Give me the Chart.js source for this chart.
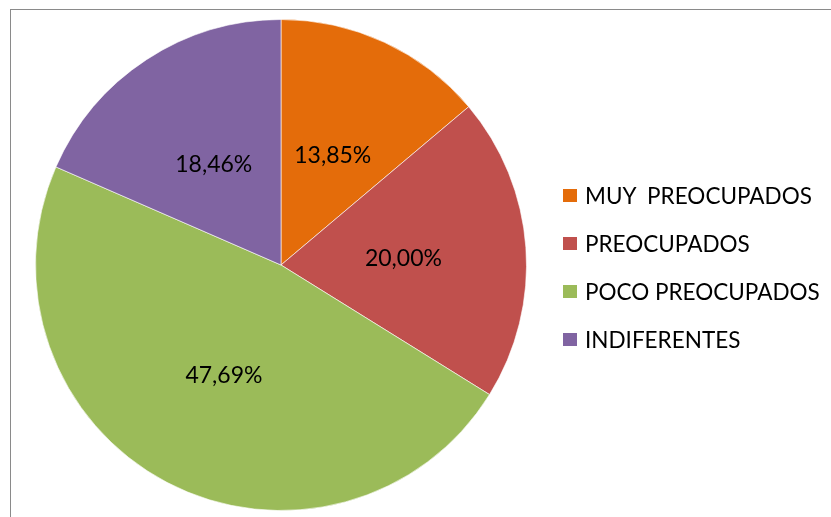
<!DOCTYPE html>
<html>
<head>
    <meta charset="UTF-8" />
    <title>Nivel de preocupación</title>
    <script src="https://cdn.jsdelivr.net/npm/chart.js"></script>
    <style>
        body { margin: 0; background: #fff; overflow: hidden; }
        #frame {
            position: absolute; left: 10px; top: 9px;
            width: 820px; height: 530px;
            border: 1.5px solid #8a8a8a;
        }
        #pieChart { position: absolute; left: 0; top: 0; }
        #legend { position: absolute; left: 563px; top: 0; font-family: Lato, sans-serif; font-size: 22.5px; color: #000; }
        .item { position: absolute; left: 0; display: flex; align-items: center; white-space: pre; }
        .box { width: 14px; height: 13px; margin-right: 8px; }
    </style>
</head>
<body>
    <div id="frame"></div>
    <canvas id="pieChart" width="831" height="517"></canvas>
    <div id="legend"></div>

    <script>
        // categories and percentages
        const categories = ['MUY  PREOCUPADOS', 'PREOCUPADOS', 'POCO PREOCUPADOS', 'INDIFERENTES'];
        const percentages = [13.85, 20.00, 47.69, 18.46];
        const colors = ['#E46C0A', '#C0504D', '#9BBB59', '#8064A2'];

        // value labels inside each slice, Spanish decimal comma
        const sliceLabels = {
            id: 'sliceLabels',
            afterDatasetsDraw(chart) {
                const ctx = chart.ctx;
                const meta = chart.getDatasetMeta(0);
                ctx.save();
                ctx.font = '23px Lato, sans-serif';
                ctx.fillStyle = '#000';
                ctx.textAlign = 'center';
                ctx.textBaseline = 'middle';
                meta.data.forEach((arc, i) => {
                    const p = arc.tooltipPosition();
                    const txt = percentages[i].toFixed(2).replace('.', ',') + '%';
                    ctx.fillText(txt, p.x, p.y + 2);
                });
                ctx.restore();
            }
        };

        new Chart(document.getElementById('pieChart'), {
            type: 'pie',
            data: {
                labels: categories,
                datasets: [{
                    data: percentages,
                    backgroundColor: colors,
                    borderColor: 'rgba(255,255,255,0.6)',
                    borderWidth: 1
                }]
            },
            options: {
                responsive: false,
                animation: false,
                layout: { padding: { left: 35, right: 304, top: 19, bottom: 6 } },
                plugins: {
                    legend: { display: false },
                    tooltip: { enabled: false }
                }
            },
            plugins: [sliceLabels]
        });

        // legend on the right
        const legend = document.getElementById('legend');
        categories.forEach((name, i) => {
            const row = document.createElement('div');
            row.className = 'item';
            row.style.top = (181 + i * 48) + 'px';
            row.style.height = '28px';
            row.innerHTML = '<span class="box" style="background:' + colors[i] + '"></span><span>' + name + '</span>';
            legend.appendChild(row);
        });
    </script>
</body>
</html>
